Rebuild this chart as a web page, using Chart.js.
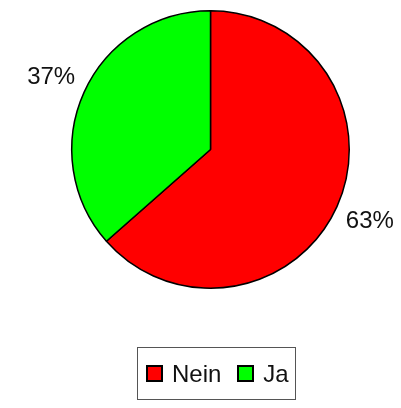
<!DOCTYPE html>
<html>
<head>
<meta charset="utf-8">
<script src="https://cdn.jsdelivr.net/npm/chart.js@4"></script>
<style>
    html, body { margin: 0; padding: 0; background: #fff; }
    #wrap { position: relative; width: 401px; height: 408px; }
    #legend {
        position: absolute; left: 137px; top: 347px; height: 53px;
        box-sizing: border-box; border: 1px solid #555;
        display: flex; align-items: center; padding: 0 6px 0 8px;
        font-family: "Liberation Sans", Arial, sans-serif; font-size: 24px; color: #111;
    }
    .item { display: flex; align-items: center; margin-right: 16px; }
    .item:last-child { margin-right: 0; }
    .swatch { width: 17px; height: 17px; box-sizing: border-box; border: 2px solid #000; margin-right: 9px; }
</style>
</head>
<body>
<div id="wrap">
    <canvas id="pieChart" width="401" height="408"></canvas>
    <div id="legend"></div>
</div>
<script>
// Data (slice sizes, labels as printed)
const labels = ['Nein', 'Ja'];
const values = [63.5, 36.5];
const colors = ['#ff0000', '#00ff00'];
const valueLabels = ['63%', '37%'];

// Percent labels outside the slices
const outsideLabels = {
    id: 'outsideLabels',
    afterDatasetsDraw(chart) {
        const { ctx } = chart;
        const arcs = chart.getDatasetMeta(0).data;
        ctx.save();
        ctx.font = '24px "Liberation Sans", Arial, sans-serif';
        ctx.fillStyle = '#111';
        ctx.textAlign = 'center';
        ctx.textBaseline = 'middle';
        arcs.forEach((arc, i) => {
            const { x, y, startAngle, endAngle, outerRadius } = arc.getProps(['x', 'y', 'startAngle', 'endAngle', 'outerRadius'], true);
            const mid = (startAngle + endAngle) / 2;
            const r = outerRadius * 1.26;
            ctx.fillText(valueLabels[i], x + Math.cos(mid) * r, y + Math.sin(mid) * r);
        });
        ctx.restore();
    }
};

const chart = new Chart(document.getElementById('pieChart'), {
    type: 'pie',
    data: {
        labels: labels,
        datasets: [{
            data: values,
            backgroundColor: colors,
            borderColor: '#000',
            borderWidth: 1.5
        }]
    },
    options: {
        responsive: false,
        animation: false,
        layout: { padding: { top: 10, bottom: 119, left: 71, right: 51 } },
        plugins: {
            legend: { display: false },
            tooltip: { enabled: false }
        }
    },
    plugins: [outsideLabels]
});

// HTML legend built from the chart's own legend items
function renderLegend() {
    const items = chart.options.plugins.legend.labels.generateLabels(chart);
    document.getElementById('legend').innerHTML = items.map(it => `
        <div class="item">
            <span class="swatch" style="background:${it.fillStyle}"></span>
            <span>${it.text}</span>
        </div>
    `).join('');
}
renderLegend();
</script>
</body>
</html>
